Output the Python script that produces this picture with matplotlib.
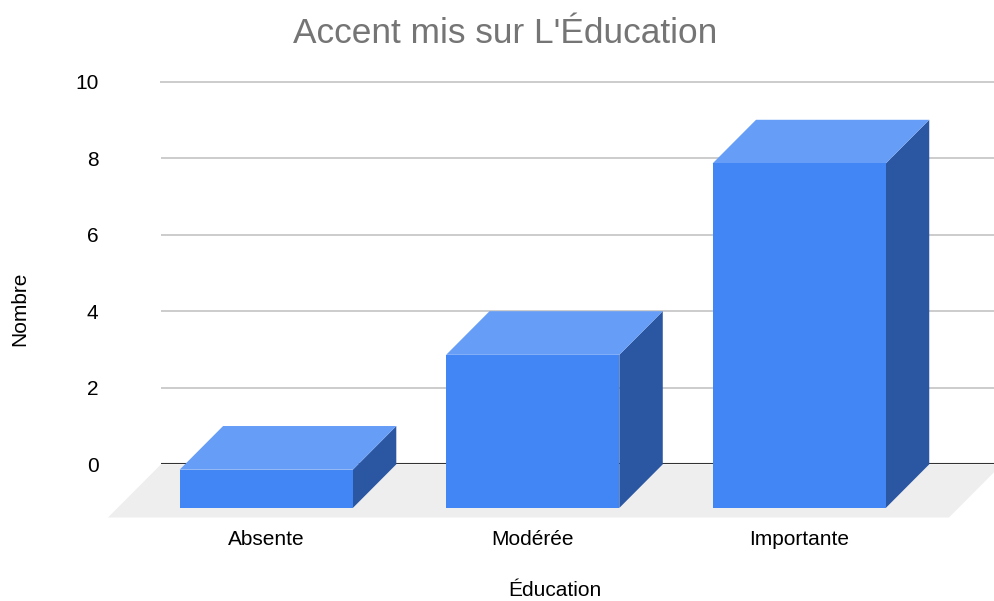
import matplotlib
matplotlib.use("Agg")
import matplotlib.pyplot as plt
from matplotlib.patches import Polygon

plt.rcParams['font.family'] = ['Liberation Sans', 'DejaVu Sans']

categories = ['Absente', 'Modérée', 'Importante']
counts = [1, 4, 9]
y_ticks = [0, 2, 4, 6, 8, 10]

W, H = 994, 601

# faux 3d depth, in data units
depth_x = 0.163
depth_y = 1.14
half_w = 0.325
floor_dx = 0.199
floor_dy = 1.39


def px_box(left, top, right, bottom):
    return [left / W, 1 - bottom / H, (right - left) / W, (bottom - top) / H]


fig = plt.figure(figsize=(W / 100, H / 100), dpi=100)
ax = fig.add_axes(px_box(161, 81.5, 994, 464.3))
ax.set_xlim(-0.558, 2.568)
ax.set_ylim(0, 10)

for s in ax.spines.values():
    s.set_visible(False)

ax.set_yticks(y_ticks)
ax.set_xticks([i - depth_x for i in range(len(categories))])
ax.set_xticklabels(categories)
ax.tick_params(axis='both', length=0, labelsize=15, labelcolor='#000000')
ax.tick_params(axis='y', pad=45)
ax.tick_params(axis='x', pad=47.5)
ax.grid(axis='y', color='#cccccc', linewidth=1.4, zorder=1)
ax.set_axisbelow(True)
for lab in ax.get_yticklabels():
    lab.set_clip_on(False)
ax.yaxis.get_major_ticks()[-1].gridline.set_clip_on(False)

# floor
x0, x1 = ax.get_xlim()
ax.add_patch(Polygon([(x0, 0), (x1 + 0.03, 0), (x1 + 0.03 - floor_dx, -floor_dy), (x0 - floor_dx, -floor_dy)],
                     facecolor='#eeeeee', edgecolor='none', clip_on=False, zorder=1.5))
ax.axhline(0, color='#333333', linewidth=1.5, zorder=2)

for i, v in enumerate(counts):
    l, r = i - half_w, i + half_w
    # right side
    ax.add_patch(Polygon([(r - depth_x, -depth_y), (r, 0), (r, v), (r - depth_x, v - depth_y)],
                         facecolor='#2a56a2', edgecolor='none', clip_on=False, zorder=3))
    # top
    ax.add_patch(Polygon([(l - depth_x, v - depth_y), (l, v), (r, v), (r - depth_x, v - depth_y)],
                         facecolor='#669df6', edgecolor='none', clip_on=False, zorder=3))
    # front
    ax.add_patch(Polygon([(l - depth_x, -depth_y), (l - depth_x, v - depth_y), (r - depth_x, v - depth_y), (r - depth_x, -depth_y)],
                         facecolor='#4285f4', edgecolor='none', clip_on=False, zorder=4))

fig.text(505 / W, 1 - 33.5 / H, "Accent mis sur L'Éducation", fontsize=25.4, color='#757575', ha='center', va='center')
fig.text(555 / W, 1 - 591 / H, 'Éducation', fontsize=15, color='#000000', ha='center', va='center')
fig.text(20 / W, 1 - 309 / H, 'Nombre', fontsize=15, color='#000000', ha='center', va='center', rotation=90)

fig.savefig('out.png', dpi=100)
